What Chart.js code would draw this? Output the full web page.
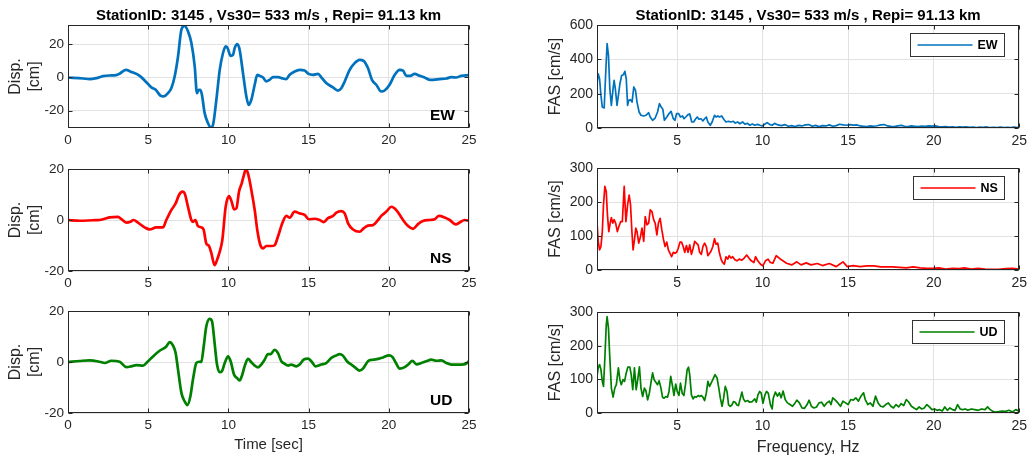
<!DOCTYPE html>
<html><head><meta charset="utf-8">
<script src="https://cdn.jsdelivr.net/npm/chart.js@4.4.1/dist/chart.umd.min.js"></script>
<style>
html,body{margin:0;padding:0;background:#fff;}
#wrap{position:relative;width:1032px;height:459px;overflow:hidden;background:#fff;}
canvas{position:absolute;display:block;}
</style></head><body><div id="wrap">
<canvas id="l1"></canvas><canvas id="l2"></canvas><canvas id="l3"></canvas>
<canvas id="r1"></canvas><canvas id="r2"></canvas><canvas id="r3"></canvas>
</div>
<script>
// ---------------- DATA ----------------
const titleText = 'StationID: 3145 , Vs30= 533 m/s , Repi= 91.13 km';
const components = ['EW', 'NS', 'UD'];
const timeTicks = [0, 5, 10, 15, 20, 25];
const dispTicks = [-20, 0, 20];
const freqTicks = [5, 10, 15, 20, 25];
const fasTicksEW = [0, 200, 400, 600];
const fasTicksNSUD = [0, 100, 200, 300];

const ewTime = [0,0.94,1.35,1.77,2.18,2.6,3.0,3.2,3.6,3.95,4.47,4.9,5.2,5.47,5.76,5.96,6.23,6.44,6.65,6.86,7.07,7.27,7.48,7.69,7.9,8.04,8.15,8.25,8.35,8.52,8.73,8.9,9.04,9.25,9.46,9.66,9.83,9.95,10.14,10.29,10.39,10.56,10.7,10.91,11.12,11.26,11.43,11.64,11.8,11.95,12.16,12.36,12.57,12.78,13.1,13.4,13.6,13.82,14.13,14.44,14.75,15.0,15.27,15.59,15.8,16.1,16.5,16.83,17.04,17.25,17.56,17.87,18.18,18.43,18.7,18.95,19.22,19.53,19.74,20.05,20.37,20.68,20.89,21.09,21.34,21.61,21.92,22.23,22.55,22.76,23.17,23.59,23.9,24.2,24.52,25];
const ewDisp = [0,-0.6,-1,-0.4,0.8,1.2,1.4,2.2,4.6,3.4,1,-3,-6,-7.5,-11,-11.5,-9.5,-6.5,0.6,12.7,29,31.3,28,21,6.7,-9.5,-7.5,-7.5,-10.5,-21.6,-27.7,-30.4,-28.7,-13.5,4.6,14.7,18.8,17.8,13.1,13.7,17.8,20.2,16.8,2.6,-11.5,-16.6,-13.5,-4.4,1.6,1,0,-2.4,-1.4,0.2,0.2,-0.6,-1,1.6,3.6,4.6,4.2,2.2,1.6,2.2,0,-3.4,-5.9,-7.9,-6.5,-2.4,4.6,8.7,10.7,10.1,5.7,-1.4,-4.4,-8.5,-7.9,-4.4,1.6,4.6,4.2,1,1,2.2,1,0,-1.4,-1.4,-1,-0.6,0.2,0,1,1.4];

const nsTime = [0,0.73,1.56,1.97,2.29,2.6,3.12,3.33,3.64,3.89,4.09,4.36,4.78,5.09,5.5,5.92,6.13,6.44,6.71,6.92,7.13,7.27,7.48,7.69,7.79,7.94,8.1,8.31,8.46,8.62,8.79,8.94,9.14,9.29,9.46,9.62,9.83,10.04,10.2,10.35,10.5,10.66,10.83,10.97,11.08,11.22,11.43,11.64,11.8,11.99,12.16,12.36,12.68,12.88,13.09,13.36,13.61,13.82,14.13,14.44,14.75,15.02,15.38,15.69,15.94,16.21,16.52,16.73,17.04,17.25,17.46,17.77,18.18,18.43,18.7,19.01,19.33,19.53,19.85,20.16,20.47,20.89,21.2,21.51,21.82,22.13,22.55,22.86,23.13,23.48,23.8,24.17,24.42,24.73,25];
const nsDisp = [0,-0.3,-0.1,0,0.5,1,1.2,0.3,-1,-0.7,0,-1,-2.9,-3.7,-2.9,-2.9,0,3.9,6.5,9.8,11.1,10.5,5.2,0,-0.7,0,-2.4,-2.9,-3.9,-9.2,-10.2,-13.1,-17.7,-15.7,-12.4,-7.9,5.2,9.4,7.2,4.2,4.6,11.1,14.4,17.7,19.8,18.3,11.8,3.9,-3.9,-9.8,-11.1,-10.2,-10.2,-9.9,-6.5,-1.3,1.6,0.9,3.3,2.6,2,0.3,0.5,0,-0.8,0.7,1.6,2.9,3.5,2.6,-1.3,-3.7,-4.6,-3.3,-2.2,-2,0,1.6,3.3,5.2,3.9,0,-2.4,-3.5,-1.6,-0.4,0,0.3,1.6,1,0,-1.7,-1,0,-0.3];

const udTime = [0,0.73,1.35,1.97,2.29,2.7,3.22,3.64,3.95,4.26,4.68,4.99,5.3,5.71,6.13,6.34,6.55,6.71,6.86,7.07,7.27,7.44,7.63,7.79,8.0,8.17,8.31,8.46,8.62,8.83,8.98,9.14,9.29,9.46,9.6,9.77,9.98,10.14,10.35,10.54,10.7,10.87,11.01,11.22,11.43,11.64,11.85,12.05,12.26,12.47,12.64,12.88,13.09,13.3,13.51,13.72,13.92,14.24,14.44,14.69,14.96,15.17,15.44,15.79,16.1,16.42,16.73,16.94,17.14,17.39,17.66,17.93,18.18,18.43,18.7,19.01,19.33,19.64,20.01,20.22,20.47,20.68,20.99,21.26,21.47,21.72,22.03,22.34,22.65,22.96,23.28,23.59,23.9,24.21,24.52,24.79,25];
const udDisp = [0,0.4,0.65,0.1,-0.4,0.5,0.1,-2,-1.7,-1.2,-1.4,0.3,2.2,4.4,6.1,7.8,6.4,3.5,-3,-12.1,-15.4,-16.9,-13.4,-6.9,-0.4,0.1,0,6.1,13.9,16.9,15.9,7.4,-1,-4,-3.6,-0.4,2.2,0.3,-4.9,-6.3,-7.2,-4.9,-1.7,1.2,-0.1,-1.4,-2.1,-1,0.9,3.1,3.1,4.8,3.5,0.3,-0.7,-1.4,-1,-1.7,-1,0.9,1.3,0.3,-1.7,-1,-0.4,1.6,2.6,3.1,2.5,0.3,-1,-2.3,-3.4,-2.3,0.3,0.9,1.2,1.8,2.6,2,-0.7,-2.6,-2,-0.7,0.5,-0.9,-0.4,0.3,0.9,0.5,0.65,-0.4,-1,-1,-1,-0.8,0.4];

const ewFreq = [0.32,0.39,0.47,0.55,0.63,0.74,0.84,0.91,0.99,1.07,1.16,1.26,1.32,1.39,1.49,1.57,1.66,1.76,1.86,1.95,2.03,2.11,2.18,2.28,2.37,2.47,2.57,2.66,2.78,2.89,3.05,3.18,3.34,3.43,3.57,3.72,3.86,3.97,4.07,4.17,4.26,4.4,4.53,4.65,4.78,4.88,4.97,5.09,5.2,5.32,5.41,5.51,5.64,5.74,5.86,5.97,6.09,6.18,6.28,6.4,6.51,6.61,6.71,6.8,6.94,7.05,7.19,7.28,7.38,7.48,7.61,7.73,7.86,8.0,8.15,8.29,8.4,8.54,8.67,8.83,8.96,9.12,9.25,9.4,9.54,9.7,9.85,9.98,10.14,10.27,10.4,10.56,10.7,10.9,11.1,11.3,11.5,11.7,11.9,12.1,12.3,12.5,12.7,12.9,13.1,13.3,13.5,13.7,13.9,14.1,14.3,14.5,14.7,14.9,15.1,15.3,15.5,15.7,15.9,16.1,16.3,16.5,16.7,16.9,17.1,17.3,17.5,17.7,17.9,18.1,18.3,18.5,18.7,18.9,19.1,19.3,19.5,19.7,19.9,20.1,20.3,20.5,20.7,20.9,21.1,21.3,21.5,21.7,21.9,22.1,22.3,22.5,22.7,22.9,23.1,23.3,23.5,23.7,23.9,24.1,24.3,24.5,24.7,24.9,25];
const ewFas = [258,316,287,190,122,117,345,491,423,229,132,229,277,229,132,190,258,306,310,330,287,132,161,165,151,239,219,151,93,74,70,74,89,64,45,58,93,142,122,109,45,64,84,97,54,45,84,84,64,70,54,64,78,82,35,35,54,64,51,54,41,54,64,35,16,35,74,64,70,64,70,51,35,39,35,39,29,35,25,35,23,27,16,23,16,21,16,12,23,31,21,16,27,18,14,20,10,14,9,15,12,18,20,10,15,8,14,12,18,10,14,22,18,16,20,17,18,12,10,8,12,10,13,18,20,12,9,8,12,15,10,8,12,10,8,11,9,12,11,12,8,6,8,5,6,4,6,5,7,4,5,3,5,4,6,3,4,3,5,3,4,2,5,3,4];

const nsFreq = [0.32,0.39,0.47,0.55,0.63,0.7,0.78,0.86,0.93,1.01,1.09,1.16,1.24,1.32,1.41,1.51,1.6,1.7,1.8,1.91,2.01,2.11,2.2,2.28,2.36,2.43,2.51,2.59,2.66,2.76,2.86,2.95,3.05,3.14,3.24,3.34,3.43,3.53,3.63,3.72,3.82,3.91,4.01,4.11,4.21,4.3,4.4,4.49,4.59,4.68,4.78,4.88,4.97,5.07,5.17,5.26,5.36,5.45,5.55,5.64,5.74,5.84,5.94,6.03,6.13,6.23,6.32,6.42,6.51,6.61,6.71,6.8,6.9,6.99,7.09,7.19,7.28,7.38,7.47,7.57,7.67,7.76,7.86,7.96,8.05,8.15,8.25,8.38,8.5,8.63,8.79,8.92,9.07,9.2,9.34,9.49,9.59,9.72,9.88,10.01,10.17,10.32,10.45,10.6,10.8,11.1,11.4,11.7,12.0,12.25,12.55,12.83,13.2,13.5,13.9,14.3,14.5,14.7,14.95,15.3,15.7,16.1,16.5,16.9,17.2,17.6,18.0,18.4,18.8,19.2,19.6,19.95,20.3,20.7,21.1,21.5,21.8,22.2,22.6,23.0,23.4,23.8,24.2,24.6,25.0];
const nsFas = [142,84,59,69,113,192,246,231,162,113,138,154,138,148,138,113,128,142,142,246,142,192,220,192,113,59,89,123,113,79,98,123,84,157,133,138,177,172,148,138,103,138,152,118,89,69,82,59,49,39,52,49,52,64,82,82,69,52,72,52,74,46,64,84,79,74,52,46,69,79,69,42,49,56,69,92,76,79,52,32,22,17,39,32,42,35,39,30,27,32,29,35,44,35,27,22,39,27,17,12,27,32,22,20,42,30,20,15,24,15,21,15,19,13,19,10,17,24,10,13,10,12,12,9,9,9,8,6,9,6,5,5,6,3,5,4,6,3,5,3,2,2,4,5,3];

const udFreq = [0.32,0.39,0.47,0.55,0.63,0.7,0.78,0.86,0.91,0.99,1.07,1.16,1.26,1.36,1.45,1.57,1.66,1.74,1.84,1.93,2.03,2.12,2.24,2.32,2.41,2.51,2.61,2.7,2.8,2.89,2.99,3.09,3.18,3.28,3.38,3.47,3.57,3.66,3.76,3.86,3.95,4.05,4.15,4.24,4.34,4.44,4.53,4.63,4.72,4.82,4.92,5.01,5.11,5.2,5.3,5.4,5.49,5.59,5.67,5.74,5.84,5.94,6.03,6.13,6.23,6.32,6.42,6.51,6.61,6.71,6.8,6.9,6.99,7.09,7.22,7.34,7.44,7.53,7.63,7.72,7.82,7.92,8.01,8.11,8.21,8.3,8.4,8.5,8.59,8.69,8.79,8.88,8.98,9.12,9.25,9.4,9.54,9.63,9.73,9.83,9.92,10.02,10.14,10.23,10.33,10.46,10.56,10.62,10.75,10.87,10.98,11.08,11.2,11.32,11.45,11.6,11.75,11.9,12.0,12.15,12.3,12.45,12.6,12.72,12.85,13.0,13.15,13.3,13.45,13.6,13.75,13.9,14.0,14.1,14.25,14.4,14.55,14.7,14.85,15.0,15.15,15.3,15.45,15.6,15.75,15.9,16.0,16.15,16.3,16.45,16.6,16.75,16.9,17.05,17.2,17.35,17.5,17.65,17.8,17.95,18.1,18.25,18.4,18.55,18.7,18.85,19.0,19.15,19.3,19.45,19.6,19.75,19.9,20.05,20.2,20.35,20.5,20.65,20.8,20.95,21.1,21.25,21.4,21.55,21.7,21.85,22.0,22.2,22.4,22.6,22.8,23.0,23.15,23.3,23.45,23.6,23.8,24.0,24.2,24.4,24.6,24.8,25.0];
const udFas = [109,134,144,129,94,79,163,261,286,252,163,74,47,74,84,134,99,84,99,94,119,136,136,114,69,134,69,99,137,74,49,74,66,39,59,89,119,99,91,84,96,76,47,44,49,47,64,109,84,52,86,64,52,89,59,52,84,129,136,114,54,42,49,47,52,49,52,47,37,59,94,79,89,99,114,104,74,44,20,44,79,64,24,20,24,34,32,24,22,42,62,42,34,37,32,34,42,32,54,64,59,29,54,64,59,24,12,44,62,50,60,45,65,40,30,25,20,30,38,30,15,14,25,38,20,15,18,30,32,20,30,35,25,45,38,30,20,35,30,25,40,38,45,35,50,60,40,25,30,20,50,30,20,18,25,30,20,15,25,18,28,22,40,32,20,15,10,18,12,15,25,18,10,12,8,10,6,18,8,15,10,8,25,12,10,12,8,12,10,8,12,10,18,10,5,3,4,6,5,8,3,10,5];

const compColors = ['#0072BD', '#FF0000', '#008000'];

// ---------------- RENDERING ----------------
const FONT = "'Liberation Sans', Arial, Helvetica, sans-serif";
Chart.defaults.font.family = FONT;
Chart.defaults.color = '#262626';

const decoPlugin = {
  id: 'deco',
  afterDatasetsDraw(chart, args, o) {
    const {ctx, chartArea: a, scales} = chart;
    ctx.save();
    const L = Math.round(a.left) + 0.5, R = Math.round(a.right) - 0.5;
    const T = Math.round(a.top) + 0.5, B = Math.round(a.bottom) - 0.5;
    ctx.strokeStyle = '#262626'; ctx.lineWidth = 1;
    ctx.strokeRect(L, T, R - L, B - T);
    ctx.beginPath();
    scales.x.ticks.forEach(t => {
      const px = Math.round(scales.x.getPixelForValue(t.value)) + 0.5;
      ctx.moveTo(px, B); ctx.lineTo(px, B - 4);
      ctx.moveTo(px, T); ctx.lineTo(px, T + 4);
    });
    scales.y.ticks.forEach(t => {
      const py = Math.round(scales.y.getPixelForValue(t.value)) + 0.5;
      ctx.moveTo(L, py); ctx.lineTo(L + 4, py);
      ctx.moveTo(R, py); ctx.lineTo(R - 4, py);
    });
    ctx.stroke();
    const label = chart.data.datasets[0].label;
    if (o.title) {
      ctx.fillStyle = '#000';
      ctx.font = 'bold 15px ' + FONT;
      ctx.textAlign = 'center'; ctx.textBaseline = 'alphabetic';
      ctx.fillText(o.title, (a.left + a.right) / 2, o.titleY);
    }
    if (o.tag) {
      ctx.fillStyle = '#000';
      ctx.font = 'bold 15.5px ' + FONT;
      ctx.textAlign = 'left'; ctx.textBaseline = 'alphabetic';
      ctx.fillText(label, a.right - 39, a.bottom - 8);
    }
    if (o.legend) {
      ctx.font = 'bold 12.5px ' + FONT;
      const tw = ctx.measureText(label).width;
      const w = Math.round(7 + 55 + 5 + tw + 7), h = 23;
      const x1 = Math.round(a.right - 15 - w) + 0.5, y1 = Math.round(a.top + 8) + 0.5;
      ctx.fillStyle = '#fff';
      ctx.fillRect(x1, y1, w, h);
      ctx.strokeStyle = '#333'; ctx.lineWidth = 1;
      ctx.strokeRect(x1, y1, w, h);
      ctx.strokeStyle = chart.data.datasets[0].borderColor; ctx.lineWidth = 1.6;
      ctx.beginPath(); ctx.moveTo(x1 + 7, y1 + h / 2); ctx.lineTo(x1 + 62, y1 + h / 2); ctx.stroke();
      ctx.fillStyle = '#000'; ctx.textAlign = 'left'; ctx.textBaseline = 'middle';
      ctx.fillText(label, x1 + 67, y1 + h / 2 + 0.5);
    }
    ctx.restore();
  }
};

function panel(p) {
  const cv = document.getElementById(p.id);
  cv.width = p.cw; cv.height = p.ch;
  cv.style.left = p.cx + 'px'; cv.style.top = p.cy + 'px';
  const aL = p.area[0] - p.cx, aT = p.area[1] - p.cy, aR = p.area[2] - p.cx, aB = p.area[3] - p.cy;
  const pts = p.xs.map((x, i) => ({x: x, y: p.ys[i]}));
  new Chart(cv, {
    type: 'line',
    data: {datasets: [{label: p.label, data: pts, borderColor: p.color, borderWidth: p.lw,
      pointRadius: 0, fill: false, tension: p.smooth ? 0.4 : 0,
      cubicInterpolationMode: p.smooth ? 'monotone' : 'default', borderJoinStyle: 'round'}]},
    options: {
      responsive: false, animation: false, devicePixelRatio: 1,
      layout: {padding: {left: 0, top: aT, right: p.cw - aR, bottom: 0}},
      plugins: {legend: {display: false}, tooltip: {enabled: false}, title: {display: false},
        deco: {title: p.title, titleY: p.titleY, tag: p.tag, legend: p.legend}},
      scales: {
        x: {type: 'linear', min: p.xmin, max: p.xmax,
          afterBuildTicks: s => { s.ticks = p.xticks.map(v => ({value: v})); },
          afterFit: s => { s.height = p.ch - aB; },
          grid: {color: '#e2e2e2', lineWidth: 1, drawTicks: false},
          border: {display: false},
          ticks: {padding: p.xtickPad, color: '#262626', font: {size: p.tickSize}, maxRotation: 0, autoSkip: false},
          title: p.xtitle ? {display: true, text: p.xtitle, color: '#262626', font: {size: p.xtitleSize, lineHeight: 1.2}, padding: {top: 0, bottom: p.xtitlePad}} : {display: false}
        },
        y: {type: 'linear', min: p.ymin, max: p.ymax,
          afterBuildTicks: s => { s.ticks = p.yticks.map(v => ({value: v})); },
          afterFit: s => { s.width = aL; },
          grid: {color: '#e2e2e2', lineWidth: 1, drawTicks: false},
          border: {display: false},
          ticks: {padding: 4, color: '#262626', font: {size: p.tickSize}, autoSkip: false},
          title: {display: true, text: p.ytitle, color: '#262626', font: {size: 16, lineHeight: p.ylh}, padding: {top: p.ytitlePad, bottom: 0}}
        }
      }
    },
    plugins: [decoPlugin]
  });
}

const dispData = [[ewTime, ewDisp], [nsTime, nsDisp], [udTime, udDisp]];
const fasData = [[ewFreq, ewFas], [nsFreq, nsFas], [udFreq, udFas]];
const rows = [
  {cy: 0, ch: 150, L: [68, 25, 469, 128], R: [597, 25, 1023, 128], yl: [-30.6, 31.8], fasMax: 600, fasTicks: fasTicksEW},
  {cy: 150, ch: 142, L: [68, 169, 469, 271], R: [597, 168, 1023, 270], yl: [-20, 20], fasMax: 300, fasTicks: fasTicksNSUD},
  {cy: 292, ch: 167, L: [68, 311, 469, 413], R: [597, 312, 1023, 413], yl: [-20, 20], fasMax: 300, fasTicks: fasTicksNSUD}
];
rows.forEach((r, i) => {
  panel({id: 'l' + (i + 1), cx: 0, cy: r.cy, cw: 500, ch: r.ch, area: r.L,
    xs: dispData[i][0], ys: dispData[i][1], label: components[i], color: compColors[i], lw: 2.7, smooth: true,
    xmin: 0, xmax: 25, xticks: timeTicks, ymin: r.yl[0], ymax: r.yl[1], yticks: dispTicks,
    tickSize: 13.5, xtickPad: 4,
    ytitle: ['Disp.', '[cm]'], ylh: 1.2, ytitlePad: 6,
    xtitle: i === 2 ? 'Time [sec]' : null, xtitleSize: 15, xtitlePad: 5,
    title: i === 0 ? titleText : null, titleY: 20, tag: true, legend: false});
  panel({id: 'r' + (i + 1), cx: 520, cy: r.cy, cw: 512, ch: r.ch, area: r.R,
    xs: fasData[i][0], ys: fasData[i][1], label: components[i], color: compColors[i], lw: 1.7, smooth: false,
    xmin: 0.32, xmax: 25, xticks: freqTicks, ymin: 0, ymax: r.fasMax, yticks: r.fasTicks,
    tickSize: 14, xtickPad: 5,
    ytitle: 'FAS [cm/s]', ylh: 1.2, ytitlePad: 26,
    xtitle: i === 2 ? 'Frequency, Hz' : null, xtitleSize: 16, xtitlePad: 2,
    title: i === 0 ? titleText : null, titleY: 20, tag: false, legend: true});
});
</script>
</body></html>
